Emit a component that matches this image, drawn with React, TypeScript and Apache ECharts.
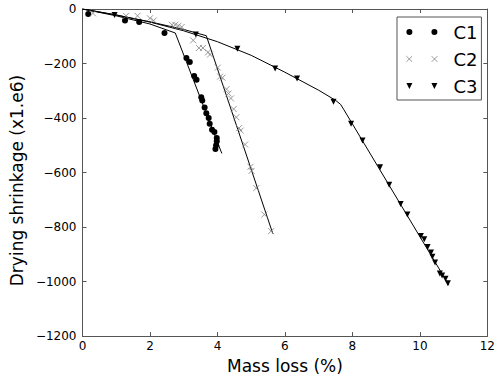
import React, { useEffect, useRef } from "react";
import * as echarts from "echarts";

const xTicks = [0, 2, 4, 6, 8, 10, 12];
const yTicks = [-1200, -1000, -800, -600, -400, -200, 0];

const c1X = [0.17, 1.26, 1.68, 2.43, 3.08, 3.18, 3.31, 3.38, 3.52, 3.55, 3.62, 3.67, 3.74, 3.77, 3.84, 3.91, 3.98, 3.98, 3.96, 3.94];
const c1Y = [-18, -42, -48, -88, -180, -194, -246, -260, -324, -336, -361, -382, -400, -421, -443, -451, -473, -485, -500, -514];

const c2X = [0.31, 1.29, 1.63, 2.0, 2.11, 2.65, 2.75, 2.84, 2.94, 3.28, 3.45, 3.57, 3.72, 3.78, 4.01, 4.08, 4.15, 4.27, 4.33, 4.4, 4.48, 4.56, 4.64, 4.69, 4.82, 4.98, 5.01, 5.15, 5.39, 5.59];
const c2Y = [-16, -25, -25, -34, -42, -58, -58, -62, -66, -115, -143, -143, -159, -167, -215, -248, -252, -294, -310, -328, -367, -397, -437, -446, -497, -579, -594, -657, -754, -815];

const c3X = [0.95, 3.36, 4.59, 5.71, 6.36, 7.44, 7.96, 8.3, 8.82, 9.09, 9.43, 9.63, 10.03, 10.13, 10.23, 10.33, 10.37, 10.45, 10.59, 10.66, 10.76, 10.83];
const c3Y = [-22, -94, -146, -218, -255, -340, -421, -482, -581, -645, -715, -754, -833, -845, -873, -893, -909, -930, -970, -978, -990, -1006];

const fit1X = [0, 1, 2, 2.75, 4.13];
const fit1Y = [0, -25, -55, -88, -530];
const fit2X = [0, 1, 2, 3, 3.67, 5.64];
const fit2Y = [0, -22, -47, -75, -98, -824];
const fit3X = [0, 1, 2, 3, 4, 5, 6, 7, 7.5, 7.65, 7.75, 10.86];
const fit3Y = [0, -22, -48, -80, -120, -170, -232, -298, -335, -350, -370, -1013];

const seriesNames = ["C1", "C2", "C3"];

const pair = (xs: number[], ys: number[]) => xs.map((x, i) => [x, ys[i]]);

const FONT = "DejaVu Sans";
const FRAME = "#555555";

const circleSym = "path://M0,5 A5,5 0 1,0 10,5 A5,5 0 1,0 0,5 Z";
const crossSym = "path://M0,0 L10,10 M10,0 L0,10";
const triSym = "path://M0,0 L10,0 L5,10 Z";

const legCircle = "path://M0,3 A3,3 0 1,0 6,3 A3,3 0 1,0 0,3 Z M25,3 A3,3 0 1,0 31,3 A3,3 0 1,0 25,3 Z";
const legCross = "path://M2,0 L7,5 M7,0 L2,5 M24,0 L29,5 M29,0 L24,5";
const legTri = "path://M0,0 L6,0 L3,6 Z M25,0 L31,0 L28,6 Z";

const minus = (v: number) => String(v).replace("-", "\u2212");

export default function App() {
  const ref = useRef<HTMLDivElement>(null);
  useEffect(() => {
    if (!ref.current) return;
    const chart = echarts.init(ref.current, undefined, { renderer: "svg" });
    const axisCommon = {
      type: "value" as const,
      axisLine: { show: true, onZero: false, lineStyle: { color: FRAME, width: 1 } },
      axisTick: { show: true, inside: true, length: 4, lineStyle: { color: FRAME } },
      splitLine: { show: false },
    };
    chart.setOption({
      animation: false,
      backgroundColor: "#ffffff",
      textStyle: { fontFamily: FONT },
      grid: { left: 78, top: 9, right: 9, bottom: 40, show: false },
      legend: {
        left: 397,
        top: 17,
        orient: "vertical",
        borderColor: FRAME,
        borderWidth: 1,
        borderRadius: 0,
        padding: [6, 4, 5, 9],
        itemGap: 9,
        itemWidth: 31,
        itemHeight: 6,
        textStyle: { fontFamily: FONT, fontSize: 18, color: "#000", lineHeight: 18, padding: [0, 0, 0, 11] },
        data: [
          { name: seriesNames[0], icon: legCircle, itemStyle: { color: "#000", borderWidth: 0 } },
          { name: seriesNames[1], icon: legCross, itemStyle: { color: "transparent", borderColor: "#808080", borderWidth: 0.8 } },
          { name: seriesNames[2], icon: legTri, itemStyle: { color: "#000", borderWidth: 0 } },
        ],
      },
      xAxis: [
        {
          ...axisCommon,
          position: "bottom",
          min: xTicks[0],
          max: xTicks[xTicks.length - 1],
          interval: 2,
          name: "Mass loss (%)",
          nameLocation: "middle",
          nameGap: 18,
          nameTextStyle: { fontFamily: FONT, fontSize: 17, color: "#000" },
          axisLabel: { fontFamily: FONT, fontSize: 12, color: "#000", margin: 4, formatter: (v: number) => minus(v) },
        },
        {
          ...axisCommon,
          position: "top",
          min: xTicks[0],
          max: xTicks[xTicks.length - 1],
          interval: 2,
          axisLabel: { show: false },
        },
      ],
      yAxis: [
        {
          ...axisCommon,
          position: "left",
          min: yTicks[0],
          max: yTicks[yTicks.length - 1],
          interval: 200,
          name: "Drying shrinkage (x1.e6)",
          nameLocation: "middle",
          nameGap: 52,
          nameTextStyle: { fontFamily: FONT, fontSize: 17, color: "#000", padding: [0, 16, 0, 0] },
          axisLabel: { fontFamily: FONT, fontSize: 12, color: "#000", margin: 6, formatter: (v: number) => minus(v) },
        },
        {
          ...axisCommon,
          position: "right",
          min: yTicks[0],
          max: yTicks[yTicks.length - 1],
          interval: 200,
          axisLabel: { show: false },
        },
      ],
      series: [
        { type: "line", data: pair(fit1X, fit1Y), showSymbol: false, lineStyle: { color: "#000", width: 1 }, silent: true, z: 1 },
        { type: "line", data: pair(fit2X, fit2Y), showSymbol: false, lineStyle: { color: "#000", width: 1 }, silent: true, z: 1 },
        { type: "line", data: pair(fit3X, fit3Y), showSymbol: false, lineStyle: { color: "#000", width: 1 }, silent: true, z: 1 },
        { name: seriesNames[0], type: "scatter", data: pair(c1X, c1Y), symbol: circleSym, symbolSize: 6, itemStyle: { color: "#000", opacity: 1 }, z: 3 },
        { name: seriesNames[1], type: "scatter", data: pair(c2X, c2Y), symbol: crossSym, symbolSize: 6, itemStyle: { color: "transparent", borderColor: "#808080", borderWidth: 0.8, opacity: 1 }, z: 3 },
        { name: seriesNames[2], type: "scatter", data: pair(c3X, c3Y), symbol: triSym, symbolSize: 6, itemStyle: { color: "#000", opacity: 1 }, z: 3 },
      ],
    });
    return () => chart.dispose();
  }, []);
  return <div ref={ref} style={{ width: 498, height: 379, position: "absolute", left: 0, top: 0 }} />;
}
